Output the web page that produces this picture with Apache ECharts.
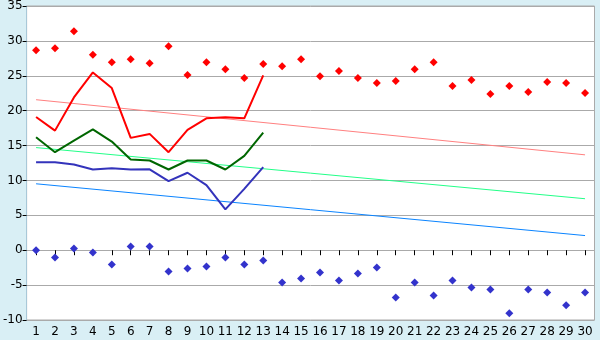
<!DOCTYPE html>
<html>
<head>
<meta charset="utf-8">
<script src="https://cdn.jsdelivr.net/npm/echarts@6/dist/echarts.min.js"></script>
<style>
html,body{margin:0;padding:0;background:#d9eff5;}
#c{width:600px;height:340px;}
</style>
</head>
<body>
<div id="c"></div>
<script>
var categories = ['1','2','3','4','5','6','7','8','9','10','11','12','13','14','15','16','17','18','19','20','21','22','23','24','25','26','27','28','29','30'];
var redPoints = [28.67,28.95,31.38,28.0,26.95,27.38,26.8,29.24,25.1,26.95,25.95,24.67,26.67,26.38,27.38,24.95,25.67,24.67,23.95,24.24,25.95,26.95,23.52,24.38,22.38,23.52,22.67,24.1,23.95,22.52];
var bluePoints = [0,-1.05,0.24,-0.33,-2.05,0.52,0.52,-3.05,-2.62,-2.33,-1.05,-2.05,-1.48,-4.62,-4.05,-3.19,-4.33,-3.33,-2.48,-6.76,-4.62,-6.48,-4.33,-5.33,-5.62,-9.05,-5.62,-6.05,-7.9,-6.05];
var redLine = [19.1,17.14,21.9,25.48,23.24,16.1,16.67,14.05,17.24,18.9,19.05,18.9,25.05];
var greenLine = [16.19,14.05,15.71,17.33,15.57,13.0,12.86,11.57,12.86,12.86,11.57,13.52,16.86];
var blueLine = [12.62,12.62,12.29,11.57,11.76,11.57,11.6,9.9,11.1,9.33,5.86,8.8,11.9];
var redTrend = [[0,21.57],[29,13.67]];
var greenTrend = [[0,14.71],[29,7.38]];
var blueTrend = [[0,9.52],[29,2.1]];
var yTicks = {min:-10, max:35, interval:5};

var chart = echarts.init(document.getElementById('c'), null, {renderer:'canvas'});
var font = {fontFamily:'DejaVu Sans', fontSize:12, color:'#000'};
chart.setOption({
  animation:false,
  backgroundColor:'#d9eff5',
  grid:{left:25.5, right:5.5, top:5, bottom:20, show:true, backgroundColor:'#fff', borderColor:'#aaa', borderWidth:1},
  xAxis:{type:'category', data:categories, boundaryGap:true,
    axisLine:{show:true, lineStyle:{color:'#aaa'}},
    axisTick:{show:true, alignWithLabel:true, length:5, lineStyle:{color:'#000'}},
    axisLabel:Object.assign({margin:6, interval:0}, font),
    splitLine:{show:false}},
  yAxis:{type:'value', min:yTicks.min, max:yTicks.max, interval:yTicks.interval,
    axisLine:{show:true, lineStyle:{color:'#a8c8d8'}},
    axisTick:{show:true, length:4, lineStyle:{color:'#000'}},
    axisLabel:Object.assign({margin:4}, font),
    splitLine:{show:true, lineStyle:{color:'#aaa', width:1}}},
  series:[
    {type:'line', data:redTrend, symbol:'none', lineStyle:{color:'#ff8080', width:1}, z:2},
    {type:'line', data:greenTrend, symbol:'none', lineStyle:{color:'#22ff88', width:1}, z:2},
    {type:'line', data:blueTrend, symbol:'none', lineStyle:{color:'#0a84ff', width:1}, z:2},
    {type:'line', data:redLine, symbol:'none', lineStyle:{color:'#ff0000', width:2}, z:3},
    {type:'line', data:greenLine, symbol:'none', lineStyle:{color:'#006600', width:2}, z:3},
    {type:'line', data:blueLine, symbol:'none', lineStyle:{color:'#3333bb', width:2}, z:3},
    {type:'scatter', data:redPoints, symbol:'diamond', symbolSize:8, itemStyle:{color:'#ff0000', opacity:1}, z:4},
    {type:'scatter', data:bluePoints, symbol:'diamond', symbolSize:8, itemStyle:{color:'#3333cc', opacity:1}, z:4}
  ]
});
</script>
</body>
</html>
